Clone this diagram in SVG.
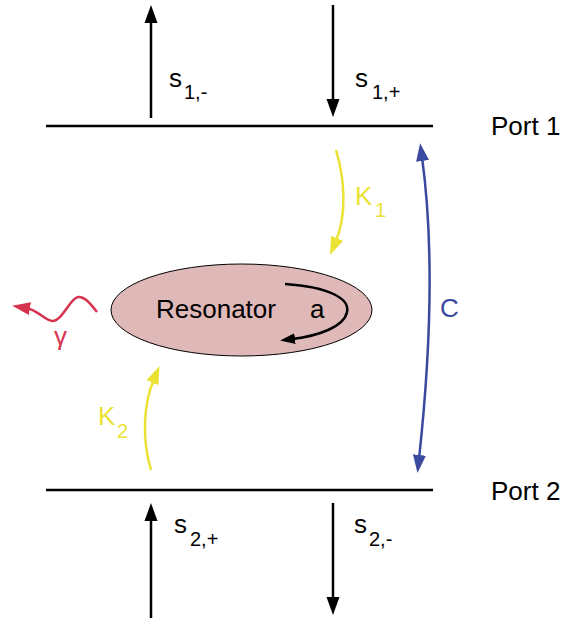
<svg xmlns="http://www.w3.org/2000/svg" width="561" height="618" viewBox="0 0 561 618">
<defs>
<style>
text{font-family:"Liberation Sans",Arial,sans-serif;}
.lbl{font-size:26px;fill:#000;}
.sub{font-size:20px;}
.blk{stroke:#000;stroke-width:2.5;fill:none;}
.yel{stroke:#ebe234;stroke-width:2.5;fill:none;}
.blu{stroke:#3a4a9f;stroke-width:2.5;fill:none;}
.red{stroke:#d7334f;stroke-width:2.5;fill:none;}
</style>
<marker id="ab" viewBox="0 -7 18 14" refX="4" refY="0" markerWidth="18" markerHeight="14" markerUnits="userSpaceOnUse" orient="auto-start-reverse"><path d="M0,-6.5 L18,0 L0,6.5 Z" fill="#000"/></marker>
<marker id="ab2" viewBox="0 -6 15 12" refX="3" refY="0" markerWidth="15" markerHeight="12" markerUnits="userSpaceOnUse" orient="auto"><path d="M0,-5.5 L15,0 L0,5.5 Z" fill="#000"/></marker>
<marker id="ay" viewBox="0 -7 18 14" refX="4" refY="0" markerWidth="18" markerHeight="14" markerUnits="userSpaceOnUse" orient="auto"><path d="M0,-6.5 L18,0 L0,6.5 Z" fill="#ebe234"/></marker>
<marker id="abl" viewBox="0 -7 18 14" refX="4" refY="0" markerWidth="18" markerHeight="14" markerUnits="userSpaceOnUse" orient="auto-start-reverse"><path d="M0,-6.5 L18,0 L0,6.5 Z" fill="#3a4a9f"/></marker>
<marker id="ar" viewBox="0 -7 18 14" refX="4" refY="0" markerWidth="18" markerHeight="14" markerUnits="userSpaceOnUse" orient="auto"><path d="M0,-6.5 L18,0 L0,6.5 Z" fill="#d7334f"/></marker>
</defs>
<rect width="561" height="618" fill="#fff"/>

<g id="port1">
<line x1="46" y1="126" x2="433" y2="126" class="blk"/>
<text x="491" y="135" class="lbl">Port 1</text>
</g>
<g id="port2">
<line x1="46" y1="490" x2="433" y2="490" class="blk"/>
<text x="491" y="500" class="lbl">Port 2</text>
</g>

<g id="resonator">
<ellipse cx="241.5" cy="310" rx="130.5" ry="46" fill="#dfb8b8" stroke="#000" stroke-width="1"/>
<text x="156" y="318" class="lbl">Resonator</text>
<text x="310" y="318" class="lbl">a</text>
<path d="M285,284 C330,287 350,299 347,312 C344,327 318,336 292,339" class="blk" stroke-width="2" marker-end="url(#ab2)"/>
</g>

<g id="labels">
<text x="169" y="87" class="lbl">s<tspan class="sub" x="184" y="99">1,-</tspan></text>
<text x="355" y="87" class="lbl">s<tspan class="sub" x="372" y="99">1,+</tspan></text>
<text x="174" y="533" class="lbl">s<tspan class="sub" x="190" y="546">2,+</tspan></text>
<text x="354" y="533" class="lbl">s<tspan class="sub" x="369" y="546">2,-</tspan></text>
<text x="355" y="205" class="lbl" style="fill:#ebe234">K<tspan class="sub" x="375" y="217">1</tspan></text>
<text x="98" y="425" class="lbl" style="fill:#ebe234">K<tspan class="sub" x="117" y="438">2</tspan></text>
<text x="440" y="317" class="lbl" style="fill:#3a4a9f">C</text>
<text x="54" y="345" class="lbl" style="fill:#d7334f">γ</text>
</g>

<g id="connectors">
<line x1="151" y1="118" x2="151" y2="19" class="blk" marker-end="url(#ab)"/>
<line x1="333" y1="5" x2="333" y2="103" class="blk" marker-end="url(#ab)"/>
<line x1="151" y1="618" x2="151" y2="517" class="blk" marker-end="url(#ab)"/>
<line x1="333" y1="503" x2="333" y2="601" class="blk" marker-end="url(#ab)"/>
<path d="M336,150 C345,180 347,215 335.5,242" class="yel" marker-end="url(#ay)"/>
<path d="M151,470 C142,440 143,405 154,379" class="yel" marker-end="url(#ay)"/>
<path d="M422,157 C432,230 433,330 419,459" class="blu" marker-start="url(#abl)" marker-end="url(#abl)"/>
<path d="M97,312 C90,303 84,296 78,297 C70,298 62,322 52,321 C44,320 38,310 26,308" class="red" marker-end="url(#ar)"/>
</g>
</svg>
